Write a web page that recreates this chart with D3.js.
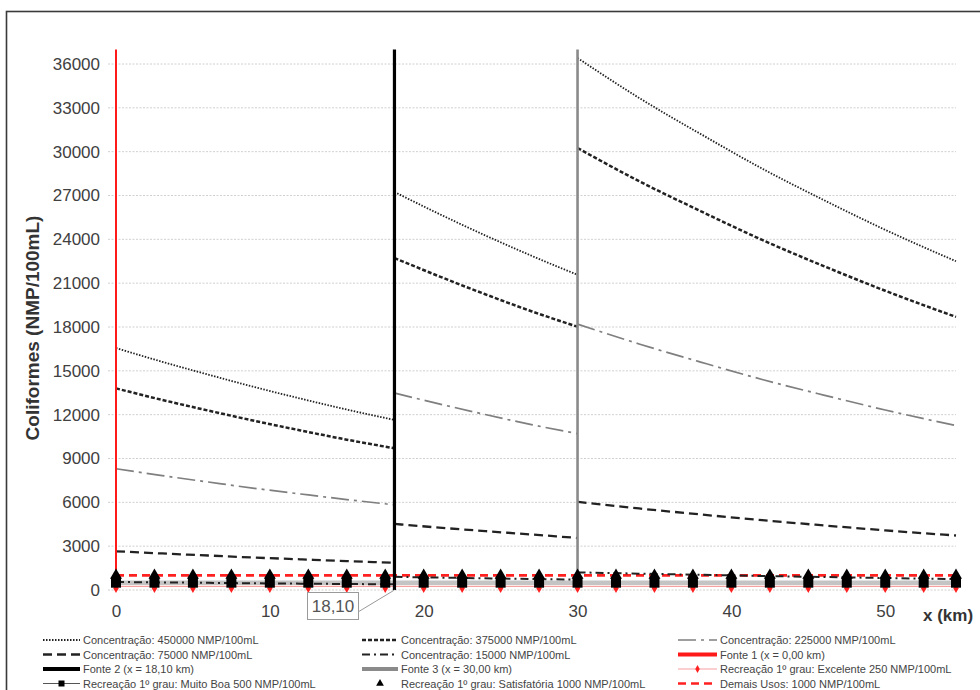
<!DOCTYPE html>
<html>
<head>
<meta charset="utf-8">
<script src="https://cdn.jsdelivr.net/npm/d3@7"></script>
<style>
  html, body { margin: 0; padding: 0; background: #fff; }
  svg { display: block; font-family: "Liberation Sans", Arial, sans-serif; }
</style>
</head>
<body>
<svg id="chart" width="980" height="690"></svg>
<script>
// Distância ao longo do rio (km) e trecho entre fontes
const km     = [0, 3, 6, 9, 12, 15, 18.1, 18.1, 21, 24, 27, 30, 30, 34, 38, 42, 46, 50, 54.6];
const trecho = [1, 1, 1, 1, 1, 1, 1,    2,    2,  2,  2,  2,  3,  3,  3,  3,  3,  3,  3];

// Coliformes (NMP/100mL) para cada concentração lançada
const conc450000 = [16560, 15620, 14740, 13890, 13100, 12350, 11640, 27240, 25740, 24270, 22880, 21570, 36410, 33680, 31210, 28840, 26690, 24650, 22500];
const conc375000 = [13800, 13010, 12280, 11580, 10920, 10290, 9700, 22720, 21470, 20240, 19080, 18020, 30250, 27980, 25930, 23960, 22170, 20480, 18690];
const conc225000 = [8300, 7830, 7390, 6960, 6570, 6190, 5830, 13480, 12740, 12010, 11320, 10700, 18200, 16840, 15600, 14410, 13340, 12320, 11250];
const conc75000  = [2650, 2500, 2360, 2220, 2100, 1980, 1860, 4520, 4270, 4030, 3800, 3560, 6030, 5580, 5170, 4780, 4420, 4080, 3730];
const conc15000  = [550, 520, 490, 460, 435, 410, 387, 900, 850, 800, 755, 715, 1210, 1120, 1040, 960, 890, 820, 750];

// Posição das fontes (km) e altura das linhas verticais
const fontesKm = [0, 18.1, 30];
const fonteTopo = 37000;

// Limites de balneabilidade / usos
const limExcelente = 250;
const limMuitoBoa = 500;
const limSatisfatoria = 1000;
const limDemaisUsos = 1000;
const kmMarcadores = [0, 2.5, 5, 7.5, 10, 12.5, 15, 17.5, 20, 22.5, 25, 27.5, 30, 32.5, 35, 37.5, 40, 42.5, 45, 47.5, 50, 52.5, 54.6];

// Eixos
const yTicks = [0, 3000, 6000, 9000, 12000, 15000, 18000, 21000, 24000, 27000, 30000, 33000, 36000];
const xTicks = [0, 10, 20, 30, 40, 50];
const rotuloFonte2 = "18,10";

const svg = d3.select("#chart");
const x = d3.scaleLinear().domain([0, 54.6]).range([116, 956]);
const y = d3.scaleLinear().domain([0, 36000]).range([590, 64]);

// moldura
svg.append("rect").attr("x", 6.5).attr("y", 11.5).attr("width", 990).attr("height", 700)
  .attr("fill", "none").attr("stroke", "#3a3a3a").attr("stroke-width", 1.6);

// grade horizontal
svg.append("g").selectAll("line").data(yTicks).join("line")
  .attr("x1", 108).attr("x2", 956)
  .attr("y1", d => y(d)).attr("y2", d => y(d))
  .attr("stroke", "#d0d0d0").attr("stroke-width", 1).attr("stroke-dasharray", "2,1.5");

// eixo Y
const gy = svg.append("g").attr("transform", `translate(${x(0)},0)`)
  .call(d3.axisLeft(y).tickValues(yTicks).tickSize(0).tickPadding(16).tickFormat(d3.format("d")));
gy.select(".domain").remove();
gy.selectAll("text").attr("font-size", 17).attr("fill", "#404040")
  .attr("font-family", "'Liberation Sans', Arial, sans-serif");

// eixo X
const gx = svg.append("g").attr("transform", `translate(0,${y(0)})`)
  .call(d3.axisBottom(x).tickValues(xTicks).tickSize(0).tickPadding(15).tickFormat(d3.format("d")));
gx.select(".domain").remove();
gx.selectAll("text").attr("font-size", 17).attr("fill", "#404040")
  .attr("font-family", "'Liberation Sans', Arial, sans-serif");

svg.append("text").attr("x", 923).attr("y", 621).attr("font-size", 17).attr("font-weight", "bold")
  .attr("fill", "#333").text("x (km)");

svg.append("text").attr("transform", "translate(39,328) rotate(-90)")
  .attr("text-anchor", "middle").attr("font-size", 19).attr("font-weight", "bold")
  .attr("fill", "#333").text("Coliformes (NMP/100mL)");

// estilos
const estilos = {
  c450000: { stroke: "#222", width: 1.8, dash: "1.5,1.5" },
  c375000: { stroke: "#222", width: 2.5, dash: "4,2" },
  c225000: { stroke: "#7f7f7f", width: 1.7, dash: "18,5,3,5" },
  c75000:  { stroke: "#222", width: 2.3, dash: "9,5" },
  c15000:  { stroke: "#222", width: 2, dash: "8,4,2,4" },
  fonte1:  { stroke: "#ff1a1a", width: 2 },
  fonte2:  { stroke: "#000", width: 3.2 },
  fonte3:  { stroke: "#8a8a8a", width: 2.6 },
  excelente: { stroke: "#f7a0a0", width: 1.2 },
  muitoBoa: { stroke: "#c4c4c4", width: 4.5 },
  demais: { stroke: "#ff2020", width: 2.6, dash: "8,5" }
};

// linhas de limite
const limites = [
  { v: limMuitoBoa, s: estilos.muitoBoa },
  { v: limExcelente, s: estilos.excelente },
  { v: limDemaisUsos, s: estilos.demais }
];
svg.append("g").selectAll("line").data(limites).join("line")
  .attr("x1", x(0)).attr("x2", x(54.6))
  .attr("y1", d => y(d.v)).attr("y2", d => y(d.v))
  .attr("stroke", d => d.s.stroke).attr("stroke-width", d => d.s.width)
  .attr("stroke-dasharray", d => d.s.dash || null);

// curvas de concentração, por trecho
const series = [
  { v: conc450000, s: estilos.c450000 },
  { v: conc375000, s: estilos.c375000 },
  { v: conc225000, s: estilos.c225000 },
  { v: conc75000,  s: estilos.c75000 },
  { v: conc15000,  s: estilos.c15000 }
];
const linha = d3.line().x(d => x(d[0])).y(d => y(d[1])).curve(d3.curveMonotoneX);
const gCurvas = svg.append("g").attr("fill", "none");
series.forEach(se => {
  const pts = km.map((k, i) => [k, se.v[i], trecho[i]]);
  d3.groups(pts, d => d[2]).forEach(([, seg]) => {
    gCurvas.append("path").attr("d", linha(seg))
      .attr("stroke", se.s.stroke).attr("stroke-width", se.s.width)
      .attr("stroke-dasharray", se.s.dash);
  });
});

// fontes (linhas verticais)
const fontes = [
  { k: fontesKm[0], s: estilos.fonte1 },
  { k: fontesKm[1], s: estilos.fonte2 },
  { k: fontesKm[2], s: estilos.fonte3 }
];
svg.append("g").selectAll("line").data(fontes).join("line")
  .attr("x1", d => x(d.k)).attr("x2", d => x(d.k))
  .attr("y1", y(0)).attr("y2", y(fonteTopo))
  .attr("stroke", d => d.s.stroke).attr("stroke-width", d => d.s.width);

// marcadores
const gM = svg.append("g");
gM.selectAll(".dia").data(kmMarcadores).join("path")
  .attr("transform", d => `translate(${x(d)},${y(limExcelente) + 1.8})`)
  .attr("d", d3.symbol(d3.symbolDiamond, 26)).attr("fill", "#ff2020");
gM.selectAll(".sq").data(kmMarcadores).join("path")
  .attr("transform", d => `translate(${x(d)},${y(limMuitoBoa)})`)
  .attr("d", d3.symbol(d3.symbolSquare, 100)).attr("fill", "#000");
gM.selectAll(".tri").data(kmMarcadores).join("path")
  .attr("transform", d => `translate(${x(d)},${y(limSatisfatoria)})`)
  .attr("d", d3.symbol(d3.symbolTriangle, 62)).attr("fill", "#000");

// rótulo da fonte 2
const xr = x(fontesKm[1]);
svg.append("line").attr("x1", 358).attr("y1", 612).attr("x2", xr).attr("y2", y(0))
  .attr("stroke", "#9a9a9a").attr("stroke-width", 1);
svg.append("rect").attr("x", 307.5).attr("y", 592.5).attr("width", 51).attr("height", 27)
  .attr("fill", "#fff").attr("stroke", "#9a9a9a").attr("stroke-width", 1);
svg.append("text").attr("x", 333).attr("y", 612).attr("text-anchor", "middle")
  .attr("font-size", 17).attr("fill", "#555").text(rotuloFonte2);

// legenda
const legenda = [
  { t: "Concentração: 450000 NMP/100mL", s: estilos.c450000, col: 0, row: 0 },
  { t: "Concentração: 375000 NMP/100mL", s: estilos.c375000, col: 1, row: 0 },
  { t: "Concentração: 225000 NMP/100mL", s: estilos.c225000, col: 2, row: 0 },
  { t: "Concentração: 75000 NMP/100mL", s: estilos.c75000, col: 0, row: 1 },
  { t: "Concentração: 15000 NMP/100mL", s: estilos.c15000, col: 1, row: 1 },
  { t: "Fonte 1 (x = 0,00 km)", s: { stroke: "#ff1a1a", width: 4 }, col: 2, row: 1 },
  { t: "Fonte 2 (x = 18,10 km)", s: { stroke: "#000", width: 4 }, col: 0, row: 2 },
  { t: "Fonte 3 (x = 30,00 km)", s: { stroke: "#8a8a8a", width: 4 }, col: 1, row: 2 },
  { t: "Recreação 1º grau: Excelente 250 NMP/100mL", s: estilos.excelente, col: 2, row: 2, m: "dia" },
  { t: "Recreação 1º grau: Muito Boa 500 NMP/100mL", s: { stroke: "#555", width: 1.2 }, col: 0, row: 3, m: "sq" },
  { t: "Recreação 1º grau: Satisfatória 1000 NMP/100mL", s: null, col: 1, row: 3, m: "tri" },
  { t: "Demais Usos: 1000 NMP/100mL", s: estilos.demais, col: 2, row: 3 }
];
const colX = [43, 362, 678];
const colW = [37, 36, 39];
const rowY = [640, 654.5, 669, 683.5];
const gL = svg.append("g");
legenda.forEach(it => {
  const x0 = colX[it.col], x1 = x0 + colW[it.col], yy = rowY[it.row];
  if (it.s) {
    gL.append("line").attr("x1", x0).attr("x2", x1).attr("y1", yy).attr("y2", yy)
      .attr("stroke", it.s.stroke).attr("stroke-width", it.s.width)
      .attr("stroke-dasharray", it.s.dash || null);
  }
  const cx = (x0 + x1) / 2;
  if (it.m === "dia") gL.append("path").attr("transform", `translate(${cx},${yy})`)
    .attr("d", d3.symbol(d3.symbolDiamond, 18)).attr("fill", "#ff2020");
  if (it.m === "sq") gL.append("path").attr("transform", `translate(${cx},${yy})`)
    .attr("d", d3.symbol(d3.symbolSquare, 36)).attr("fill", "#000");
  if (it.m === "tri") gL.append("path").attr("transform", `translate(${cx},${yy})`)
    .attr("d", d3.symbol(d3.symbolTriangle, 26)).attr("fill", "#000");
  gL.append("text").attr("x", x1 + 3).attr("y", yy + 4).attr("font-size", 11)
    .attr("fill", "#444").text(it.t);
});
</script>
</body>
</html>
